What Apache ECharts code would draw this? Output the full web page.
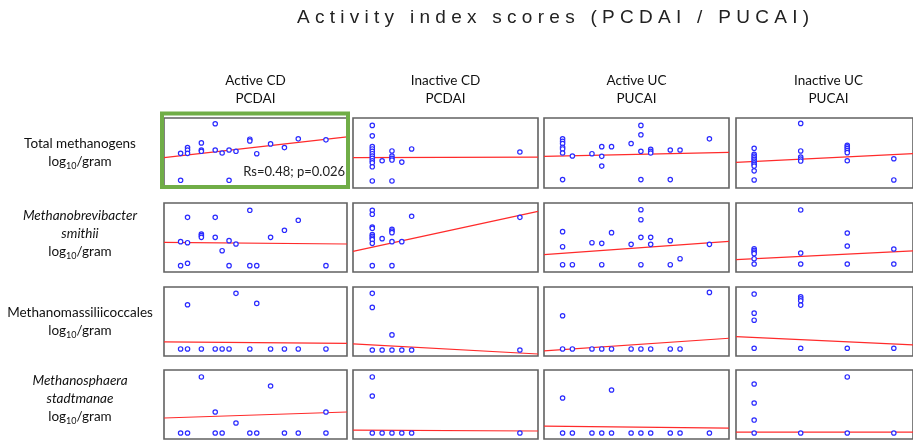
<!DOCTYPE html>
<html><head><meta charset="utf-8">
<script src="https://cdn.jsdelivr.net/npm/echarts@6/dist/echarts.min.js"></script>
<style>html,body{margin:0;padding:0;background:#fff}#c{width:913px;height:443px}</style>
</head><body><div id="c"></div>
<script>
// ---------- texts ----------
const chartTitle = 'Activity index scores (PCDAI / PUCAI)';
const columnNames = ['Active CD', 'Inactive CD', 'Active UC', 'Inactive UC'];
const columnIndices = ['PCDAI', 'PCDAI', 'PUCAI', 'PUCAI'];
const rowNames = [['Total methanogens'], ['Methanobrevibacter', 'smithii'], ['Methanomassiliicoccales'], ['Methanosphaera', 'stadtmanae']];
const rowItalic = [false, true, false, true];
const unitParts = ['log', '10', '/gram'];
const statText = 'Rs=0.48; p=0.026';

// ---------- axis ranges (activity score on x, log10/gram estimate on y) ----------
const xRangeActiveCD = [6.5, 72.6];
const xRangeInactiveCD = [-4.9, 42.1];
const xRangeActiveUC = [0.5, 95];
const xRangeInactiveUC = [-1.95, 17.06];
const yRange = [0, 10];

// ---------- Total methanogens ----------
const totActiveCD = [[12.5,4.95],[12.5,1.1],[15,5.77],[15,5.43],[15,4.95],[20,6.44],[20,5.43],[20,5.24],[25,9.18],[25,5.43],[27.5,5.0],[30,5.43],[30,1.1],[32.5,5.24],[37.5,6.97],[37.5,6.73],[40,4.9],[45,6.3],[50,5.77],[55,7.02],[65,6.88]];
const totInactiveCD = [[0,8.94],[0,7.45],[0,5.91],[0,5.58],[0,5.24],[0,4.90],[0,4.57],[0,4.23],[0,3.89],[0,3.61],[0,3.03],[0,1.01],[2.5,3.89],[5,5.29],[5,4.57],[5,4.23],[5,3.99],[5,1.01],[7.5,3.70],[10,5.58],[37.5,5.14]];
const totActiveUC = [[10,7.02],[10,6.68],[10,6.35],[10,5.82],[10,5.58],[10,5.0],[10,1.2],[15,4.57],[25,4.90],[30,5.91],[30,4.52],[30,3.13],[35,5.91],[45,6.35],[50,8.94],[50,7.60],[50,5.24],[50,1.2],[55,5.53],[55,5.24],[55,5.0],[65,5.43],[65,1.2],[70,5.43],[85,7.02]];
const totInactiveUC = [[0,5.67],[0,4.81],[0,4.57],[0,4.33],[0,4.09],[0,3.85],[0,3.61],[0,3.37],[0,3.13],[0,2.45],[0,1.15],[5,9.23],[5,5.29],[5,4.42],[5,4.13],[5,3.85],[10,6.11],[10,5.87],[10,5.63],[10,5.34],[10,5.05],[10,3.89],[15,4.18],[15,1.15]];

// ---------- Methanobrevibacter smithii ----------
const msmActiveCD = [[12.5,4.40],[12.5,0.92],[15,7.92],[15,4.25],[15,1.26],[20,5.51],[20,5.27],[20,5.02],[25,7.92],[25,5.02],[27.5,3.09],[30,4.54],[30,0.92],[32.5,4.06],[37.5,8.94],[37.5,0.92],[40,0.92],[45,5.02],[50,6.04],[55,7.49],[65,0.92]];
const msmInactiveCD = [[0,8.94],[0,8.36],[0,6.52],[0,6.33],[0,5.41],[0,5.17],[0,4.93],[0,4.69],[0,4.15],[0,0.92],[2.5,4.83],[5,6.18],[5,5.94],[5,5.70],[5,4.40],[5,0.92],[7.5,4.40],[10,8.07],[37.5,7.92]];
const msmActiveUC = [[10,5.85],[10,3.67],[10,1.06],[15,1.06],[25,4.25],[30,4.15],[30,1.06],[35,5.70],[45,4.01],[50,9.03],[50,7.58],[50,5.02],[50,1.06],[55,5.02],[55,4.01],[65,4.54],[65,1.06],[70,1.93],[85,4.01]];
const msmInactiveUC = [[0,3.38],[0,3.14],[0,2.90],[0,2.66],[0,1.93],[0,1.16],[5,8.99],[5,2.75],[5,1.16],[10,5.65],[10,3.77],[10,1.16],[15,3.33],[15,1.16]];

// ---------- Methanomassiliicoccales ----------
const mmcActiveCD = [[12.5,1.02],[15,7.43],[15,1.02],[20,1.02],[25,1.02],[27.5,1.02],[30,1.02],[32.5,9.08],[37.5,1.02],[40,7.62],[45,1.02],[50,1.02],[55,1.02],[65,1.02]];
const mmcInactiveCD = [[0,9.08],[0,7.04],[0,0.87],[2.5,0.87],[5,3.06],[5,0.87],[7.5,0.87],[10,0.87],[37.5,0.87]];
const mmcActiveUC = [[10,5.83],[10,1.02],[15,1.02],[25,1.02],[30,1.02],[35,1.02],[45,1.02],[50,1.02],[55,1.02],[65,1.02],[70,1.02],[85,9.22]];
const mmcInactiveUC = [[0,8.98],[0,6.21],[0,5.19],[0,1.12],[5,8.59],[5,8.30],[5,8.01],[5,7.38],[5,1.12],[10,1.12],[15,1.12]];

// ---------- Methanosphaera stadtmanae ----------
const mstActiveCD = [[12.5,0.87],[15,0.87],[20,8.99],[25,3.91],[25,0.87],[27.5,0.87],[32.5,2.32],[37.5,0.87],[40,0.87],[45,7.68],[50,0.87],[55,0.87],[65,3.91],[65,0.87]];
const mstInactiveCD = [[0,8.99],[0,6.23],[0,0.87],[2.5,0.87],[5,0.87],[7.5,0.87],[10,0.87],[37.5,0.87]];
const mstActiveUC = [[10,5.94],[10,0.87],[15,0.87],[25,0.87],[30,0.87],[35,7.10],[35,0.87],[45,0.87],[50,0.87],[55,0.87],[65,0.87],[70,0.87],[85,0.87]];
const mstInactiveUC = [[0,7.97],[0,5.22],[0,2.75],[0,0.87],[5,0.87],[10,8.99],[10,0.87],[15,0.87]];

// ---------- fitted lines: [y at left edge, y at right edge] ----------
const fitTotal = [[4.33,7.31],[4.33,4.42],[4.52,5.10],[3.65,4.91]];
const fitSmithii = [[4.30,4.06],[3.0,8.79],[2.51,4.44],[1.79,3.05]];
const fitMassilii = [[2.04,1.84],[1.75,0.29],[0.73,2.57],[2.82,1.60]];
const fitStadtmanae = [[3.04,3.91],[1.30,1.16],[1.88,1.59],[1.01,1.01]];

// ---------- assemble ----------
const panels = [
  [totActiveCD, totInactiveCD, totActiveUC, totInactiveUC],
  [msmActiveCD, msmInactiveCD, msmActiveUC, msmInactiveUC],
  [mmcActiveCD, mmcInactiveCD, mmcActiveUC, mmcInactiveUC],
  [mstActiveCD, mstInactiveCD, mstActiveUC, mstInactiveUC]
];
const fits = [fitTotal, fitSmithii, fitMassilii, fitStadtmanae];
const xRanges = [xRangeActiveCD, xRangeInactiveCD, xRangeActiveUC, xRangeInactiveUC];

const colLeft = [164, 353, 544, 736];
const colWidth = [183, 185, 185, 185];
const rowTop = [118, 203, 287, 370];
const rowHeight = [70, 69, 69, 69];

const FONT = 'Lato, "Open Sans", sans-serif';
const grid = [], xAxis = [], yAxis = [], series = [];
for (let r = 0; r < 4; r++) {
  for (let c = 0; c < 4; c++) {
    const i = r * 4 + c;
    grid.push({left: colLeft[c], top: rowTop[r], width: colWidth[c], height: rowHeight[r],
      show: true, borderColor: '#626262', borderWidth: 1.6, backgroundColor: '#fff', containLabel: false});
    xAxis.push({gridIndex: i, type: 'value', min: xRanges[c][0], max: xRanges[c][1], show: false});
    yAxis.push({gridIndex: i, type: 'value', min: yRange[0], max: yRange[1], show: false});
    series.push({type: 'line', xAxisIndex: i, yAxisIndex: i, silent: true, z: 2,
      data: [[xRanges[c][0], fits[r][c][0]], [xRanges[c][1], fits[r][c][1]]],
      symbol: 'none', lineStyle: {color: '#ff2b2b', width: 1.2}});
    series.push({type: 'scatter', xAxisIndex: i, yAxisIndex: i, silent: true, z: 3,
      data: panels[r][c], symbol: 'circle', symbolSize: 4.4,
      itemStyle: {color: '#ffffff', borderColor: '#2a2aff', borderWidth: 1.2, opacity: 1}});
  }
}

const graphic = [];
// title with spaced letters
graphic.push({type: 'text', x: 553, y: 18, z: 20,
  style: {text: chartTitle.split('').join(' '), font: '19px "Liberation Sans", sans-serif', fill: '#222', align: 'center', verticalAlign: 'middle'}});
// column headers
const colCenter = colLeft.map((l, k) => l + colWidth[k] / 2);
for (let c = 0; c < 4; c++) {
  graphic.push({type: 'text', x: colCenter[c], y: 81, z: 20,
    style: {text: columnNames[c], font: '13.5px ' + FONT, fill: '#111', align: 'center', verticalAlign: 'middle'}});
  graphic.push({type: 'text', x: colCenter[c], y: 99, z: 20,
    style: {text: columnIndices[c], font: '13.5px ' + FONT, fill: '#111', align: 'center', verticalAlign: 'middle'}});
}
// row labels
const rowLabelY = [[144, 162], [216, 234, 252], [313, 331], [381, 399, 417]];
for (let r = 0; r < 4; r++) {
  const names = rowNames[r];
  names.forEach((n, k) => {
    graphic.push({type: 'text', x: 80, y: rowLabelY[r][k], z: 20,
      style: {text: n, font: (rowItalic[r] ? 'italic ' : '') + '13.5px ' + FONT, fill: '#111', align: 'center', verticalAlign: 'middle'}});
  });
  graphic.push({type: 'text', x: 80, y: rowLabelY[r][names.length], z: 20,
    style: {text: '{a|' + unitParts[0] + '}{s|' + unitParts[1] + '}{a|' + unitParts[2] + '}',
      align: 'center', verticalAlign: 'middle',
      rich: {a: {font: '13.5px ' + FONT, fill: '#111', lineHeight: 18, verticalAlign: 'middle'},
             s: {font: '9px ' + FONT, fill: '#111', lineHeight: 9, verticalAlign: 'bottom'}}}});
}
// highlight box and statistics
graphic.push({type: 'rect', z: 30, shape: {x: 162, y: 113.5, width: 186, height: 73.5},
  style: {fill: 'none', stroke: '#70ad47', lineWidth: 4}});
graphic.push({type: 'text', x: 345, y: 172, z: 30,
  style: {text: statText, font: '13px ' + FONT, fill: '#222', align: 'right', verticalAlign: 'middle'}});

const chart = echarts.init(document.getElementById('c'), null, {renderer: 'canvas'});
chart.setOption({animation: false, backgroundColor: '#fff', grid, xAxis, yAxis, series, graphic});
</script></body></html>
